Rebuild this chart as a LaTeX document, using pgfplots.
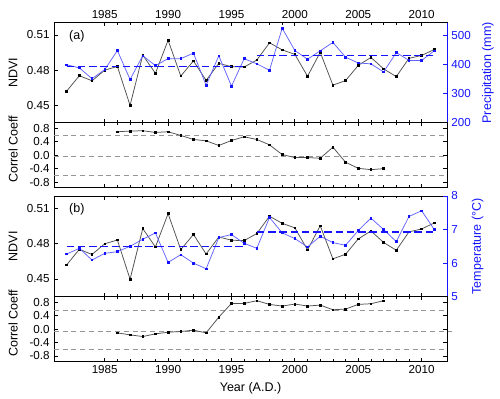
\documentclass[border=0pt]{standalone}
\usepackage{fontspec}
\setmainfont{Liberation Sans}
\usepackage{pgfplots}
\usepackage{pgfplotstable}
\pgfplotsset{compat=1.18}
\definecolor{myblue}{RGB}{20,20,255}
\definecolor{lineblue}{RGB}{100,100,255}
\definecolor{dashgray}{RGB}{150,150,150}
\definecolor{ndvigray}{RGB}{80,80,80}

\pgfplotstableread{
year ndvi prec temp
1982 0.4620 400 6.27
1983 0.4752 389 6.44
1984 0.4708 352 6.09
1985 0.4799 383 6.29
1986 0.4831 449 6.34
1987 0.4498 349 6.50
1988 0.4928 431 6.71
1989 0.4772 397 6.90
1990 0.5055 421 6.02
1991 0.4749 421 6.25
1992 0.4878 440 6.00
1993 0.4712 329 5.83
1994 0.4857 431 6.76
1995 0.4829 326 6.85
1996 0.4826 421 6.59
1997 0.4886 403 6.44
1998 0.5033 381 7.36
1999 0.4973 526 6.90
2000 0.4934 449 6.73
2001 0.4747 419 6.48
2002 0.4952 448 6.80
2003 0.4671 477 6.61
2004 0.4710 426 6.53
2005 0.4840 406 6.97
2006 0.4908 403 7.34
2007 0.4810 375 7.00
2008 0.4744 442 6.64
2009 0.4900 415 7.39
2010 0.4925 415 7.56
2011 0.4976 448 7.00
}\datatable

\pgfplotstableread{
year ra rb
1986 0.70 -0.11
1987 0.72 -0.17
1988 0.73 -0.22
1989 0.68 -0.14
1990 0.70 -0.09
1991 0.59 -0.07
1992 0.47 -0.03
1993 0.43 -0.11
1994 0.29 0.36
1995 0.44 0.77
1996 0.55 0.77
1997 0.47 0.85
1998 0.31 0.74
1999 0.02 0.69
2000 -0.07 0.75
2001 -0.07 0.69
2002 -0.09 0.72
2003 0.24 0.58
2004 -0.21 0.60
2005 -0.39 0.74
2006 -0.43 0.76
2007 -0.40 0.85
}\corrtable

\pgfplotsset{
  base/.style={
    scale only axis, width=314.4pt, anchor=north west,
    xmin=1981, xmax=2012, xtick={1985,1990,...,2010}, minor x tick num=4,
    tick align=inside, major tick length=3pt, minor tick length=1.8pt,
    axis line style={line width=0.7pt},
    every tick/.style={line width=0.6pt},
    tick label style={font=\fontsize{9.3}{10}\selectfont},
    label style={font=\fontsize{10}{12}\selectfont},
    /pgf/number format/assume math mode=true,
    xticklabel style={/pgf/number format/1000 sep={}},
  },
  ndviaxis/.style={base, ymin=0.435, ymax=0.5205, ytick={0.45,0.48,0.51}, ytick pos=left,
    yticklabel style={/pgf/number format/.cd, fixed, fixed zerofill, precision=2},
    ylabel={NDVI}, ylabel style={at={(axis description cs:-0.104,0.5)}, anchor=center}},
  corraxis/.style={base, ymin=-0.96, ymax=0.97, ytick={-0.8,-0.4,0,0.4,0.8},
    yticklabel style={/pgf/number format/.cd, fixed, fixed zerofill, precision=1},
    ylabel={Correl Coeff}, ylabel style={at={(axis description cs:-0.104,0.59)}, anchor=center}},
  twinaxis/.style={base, axis y line*=right, axis x line=none,
    axis line style={myblue, line width=0.7pt},
    every tick/.style={myblue, line width=0.6pt},
    yticklabel style={myblue},
    ylabel style={myblue, anchor=center}},
  blk/.style={ndvigray, line width=0.6pt, mark=square*, mark size=0.65pt, mark options={black}},
  blu/.style={lineblue, line width=0.6pt, mark=square*, mark size=0.65pt, mark options={myblue}},
  mean/.style={myblue, line width=1pt, dash pattern=on 6pt off 3pt},
  zero/.style={dashgray, line width=0.6pt, dash pattern=on 4pt off 3pt},
}

\begin{document}
\begin{tikzpicture}
\path (0,0) rectangle (400pt,-317.6pt);

% Panel (a) NDVI
\begin{axis}[ndviaxis, at={(43.2pt,-18.16pt)}, height=80pt, xticklabel pos=upper]
\addplot[blk] table[x=year, y=ndvi] {\datatable};
\node[font=\fontsize{10}{12}\selectfont] at (axis description cs:0.058,0.867) {(a)};
\end{axis}
\begin{axis}[twinaxis, at={(43.2pt,-18.16pt)}, height=80pt, ymin=200, ymax=545, ytick={200,300,400,500},
  ylabel={Precipitation (mm)}, ylabel style={at={(axis description cs:1.104,0.5)}}]
\addplot[blu] table[x=year, y=prec] {\datatable};
\addplot[mean] coordinates {(1982,394) (1996,394)};
\addplot[mean] coordinates {(1997,433) (2011,433)};
\end{axis}

% Panel (a) correlation
\begin{axis}[corraxis, at={(43.2pt,-98.16pt)}, height=51.8pt, xticklabels={}]
\addplot[zero] coordinates {(1981,0.58) (2012,0.58)};
\addplot[zero] coordinates {(1981,-0.02) (2012,-0.02)};
\addplot[zero] coordinates {(1981,-0.61) (2012,-0.61)};
\addplot[blk] table[x=year, y=ra] {\corrtable};
\end{axis}

% Panel (b) NDVI
\begin{axis}[ndviaxis, at={(43.2pt,-156.8pt)}, height=80.5pt, xticklabels={}]
\addplot[blk] table[x=year, y=ndvi] {\datatable};
\node[font=\fontsize{10}{12}\selectfont] at (axis description cs:0.058,0.867) {(b)};
\end{axis}
\begin{axis}[twinaxis, at={(43.2pt,-156.8pt)}, height=80.5pt, ymin=5, ymax=8, ytick={5,6,7,8},
  ylabel={Temperature (\textdegree C)}, ylabel style={at={(axis description cs:1.078,0.5)}}]
\addplot[blu] table[x=year, y=temp] {\datatable};
\addplot[mean] coordinates {(1982,6.49) (1996,6.49)};
\addplot[mean] coordinates {(1997,6.93) (2011,6.93)};
\end{axis}

% Panel (b) correlation
\begin{axis}[corraxis, at={(43.2pt,-237.36pt)}, height=51.7pt, clip=false,
  xlabel={Year (A.D.)}]
\addplot[zero] coordinates {(1981,0.56) (2012,0.56)};
\addplot[zero] coordinates {(1981,-0.08) (2012.4,-0.08)};
\addplot[zero] coordinates {(1981,-0.61) (2012,-0.61)};
\addplot[blk] table[x=year, y=rb] {\corrtable};
\end{axis}
\end{tikzpicture}
\end{document}
